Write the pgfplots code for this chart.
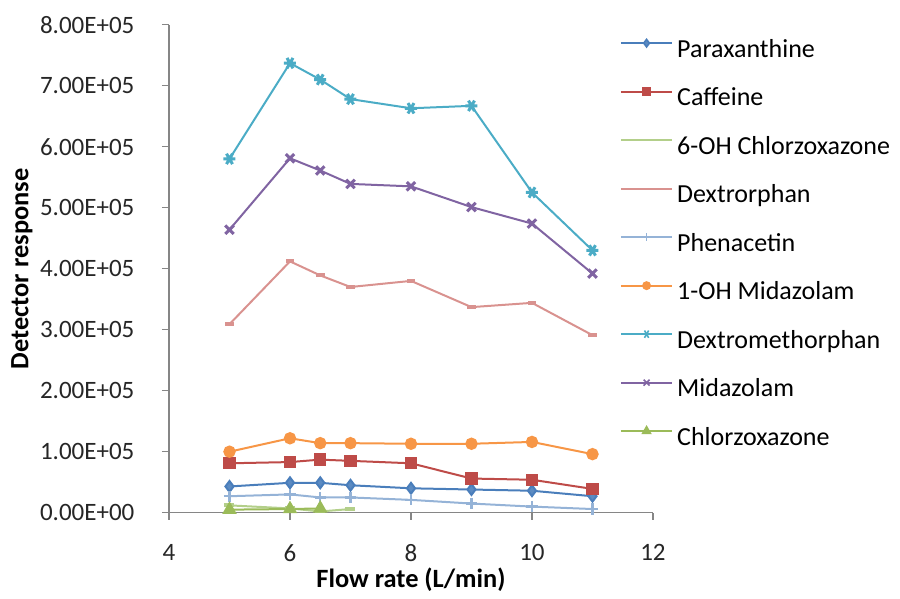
\documentclass[border=0pt]{standalone}
\usepackage{pgfplots}
\pgfplotsset{compat=1.18}
\usepackage{fontspec}
\setmainfont{Carlito}
\definecolor{cpar}{HTML}{4A7EBB}
\definecolor{ccaf}{HTML}{BE4B48}
\definecolor{cohc}{HTML}{B3CF8A}
\definecolor{cdxo}{HTML}{D9928F}
\definecolor{cphe}{HTML}{95B3D7}
\definecolor{cohm}{HTML}{F79646}
\definecolor{cdxm}{HTML}{4BACC6}
\definecolor{cmid}{HTML}{8064A2}
\definecolor{cchl}{HTML}{9BBB59}
\definecolor{axgray}{HTML}{868686}
\begin{document}
\begin{tikzpicture}
\path[use as bounding box] (0,0) rectangle (450pt,299.5pt);
\begin{axis}[
  at={(84.5pt,43.15pt)}, anchor=south west,
  scale only axis, width=242pt, height=244pt,
  xmin=4, xmax=12, ymin=0, ymax=800000,
  axis lines=left, axis line style={-, draw=axgray, line width=0.7pt},
  tick style={draw=axgray, line width=0.7pt},
  tick align=outside, major tick length=3.5pt,
  xtick={4,6,8,10,12},
  ytick={0,100000,200000,300000,400000,500000,600000,700000,800000},
  yticklabels={0.00E+00,1.00E+05,2.00E+05,3.00E+05,4.00E+05,5.00E+05,6.00E+05,7.00E+05,8.00E+05},
  scaled y ticks=false,
  /pgf/number format/assume math mode=true,
  ticklabel style={font=\fontsize{12.5}{14}\selectfont, text=black!85},
  xticklabel style={anchor=center, yshift=-16.5pt, inner sep=0pt},
  yticklabel style={anchor=east, xshift=-13.6pt, inner sep=0pt},
  xlabel={\textbf{Flow rate (L/min)}},
  ylabel={\textbf{Detector response}},
  label style={font=\fontsize{13.2}{15}\selectfont},
  xlabel style={at={(axis description cs:0.5,-0.138)}, anchor=center},
  ylabel style={at={(axis description cs:-0.3037,0.5)}, anchor=center},
  clip=false,
  legend cell align=left,
  legend style={at={(axis description cs:0.9318,0.9745)}, anchor=north west,
    draw=none, fill=none, inner sep=0pt, outer sep=0pt,
    font=\fontsize{13}{15}\selectfont, row sep=11.25pt, column sep=2pt,
    nodes={inner sep=0pt, text height=10pt, text depth=3pt}},
  legend image code/.code={\draw[mark repeat=2,mark phase=2,#1,every mark/.append style={scale=0.7, line width=0.8pt}] plot coordinates {(0cm,3.5pt)(0.45cm,3.5pt)(0.9cm,3.5pt)};},
  every axis plot/.append style={line width=1pt},
]
\addplot[cpar, mark=diamond*, mark size=2.7pt, mark options={fill=cpar!90!white}] coordinates {
(5,43000)(6,49000)(6.5,49000)(7,45000)(8,40000)(9,38000)(10,36000)(11,27000)};
\addlegendentry{Paraxanthine}
\addplot[ccaf, mark=square*, mark size=2.6pt, mark options={fill=ccaf}] coordinates {
(5,81000)(6,83000)(6.5,87000)(7,85000)(8,81000)(9,56000)(10,54000)(11,39000)};
\addlegendentry{Caffeine}
\addplot[cohc, mark=-, mark size=2.5pt, mark options={line width=2pt}] coordinates {
(5,12000)(6,7000)(6.5,2000)(7,6000)};
\addlegendentry{6-OH Chlorzoxazone}
\addplot[cdxo, mark=-, mark size=2.2pt, mark options={line width=2pt}] coordinates {
(5,309000)(6,412000)(6.5,389000)(7,370000)(8,380000)(9,337000)(10,344000)(11,291000)};
\addlegendentry{Dextrorphan}
\addplot[cphe, mark=+, mark size=2.8pt, mark options={line width=1.2pt}] coordinates {
(5,27000)(6,30000)(6.5,25000)(7,25000)(8,21000)(9,15000)(10,10000)(11,6000)};
\addlegendentry{Phenacetin}
\addplot[cohm, mark=*, mark size=2.6pt, mark options={fill=cohm}] coordinates {
(5,100000)(6,122000)(6.5,114000)(7,114000)(8,113000)(9,113000)(10,116000)(11,96000)};
\addlegendentry{1-OH Midazolam}
\addplot[cdxm, mark=asterisk, mark size=3pt, mark options={line width=1.5pt, rotate=90}] coordinates {
(5,580000)(6,737000)(6.5,710000)(7,678000)(8,663000)(9,667000)(10,525000)(11,430000)};
\addlegendentry{Dextromethorphan}
\addplot[cmid, mark=x, mark size=3pt, mark options={line width=1.5pt}] coordinates {
(5,464000)(6,581000)(6.5,561000)(7,539000)(8,535000)(9,501000)(10,474000)(11,392000)};
\addlegendentry{Midazolam}
\addplot[cchl, mark=triangle*, mark size=3.2pt, mark options={fill=cchl}] coordinates {
(5,5000)(6,6000)(6.5,7000)};
\addlegendentry{Chlorzoxazone}
\end{axis}
\end{tikzpicture}
\end{document}
